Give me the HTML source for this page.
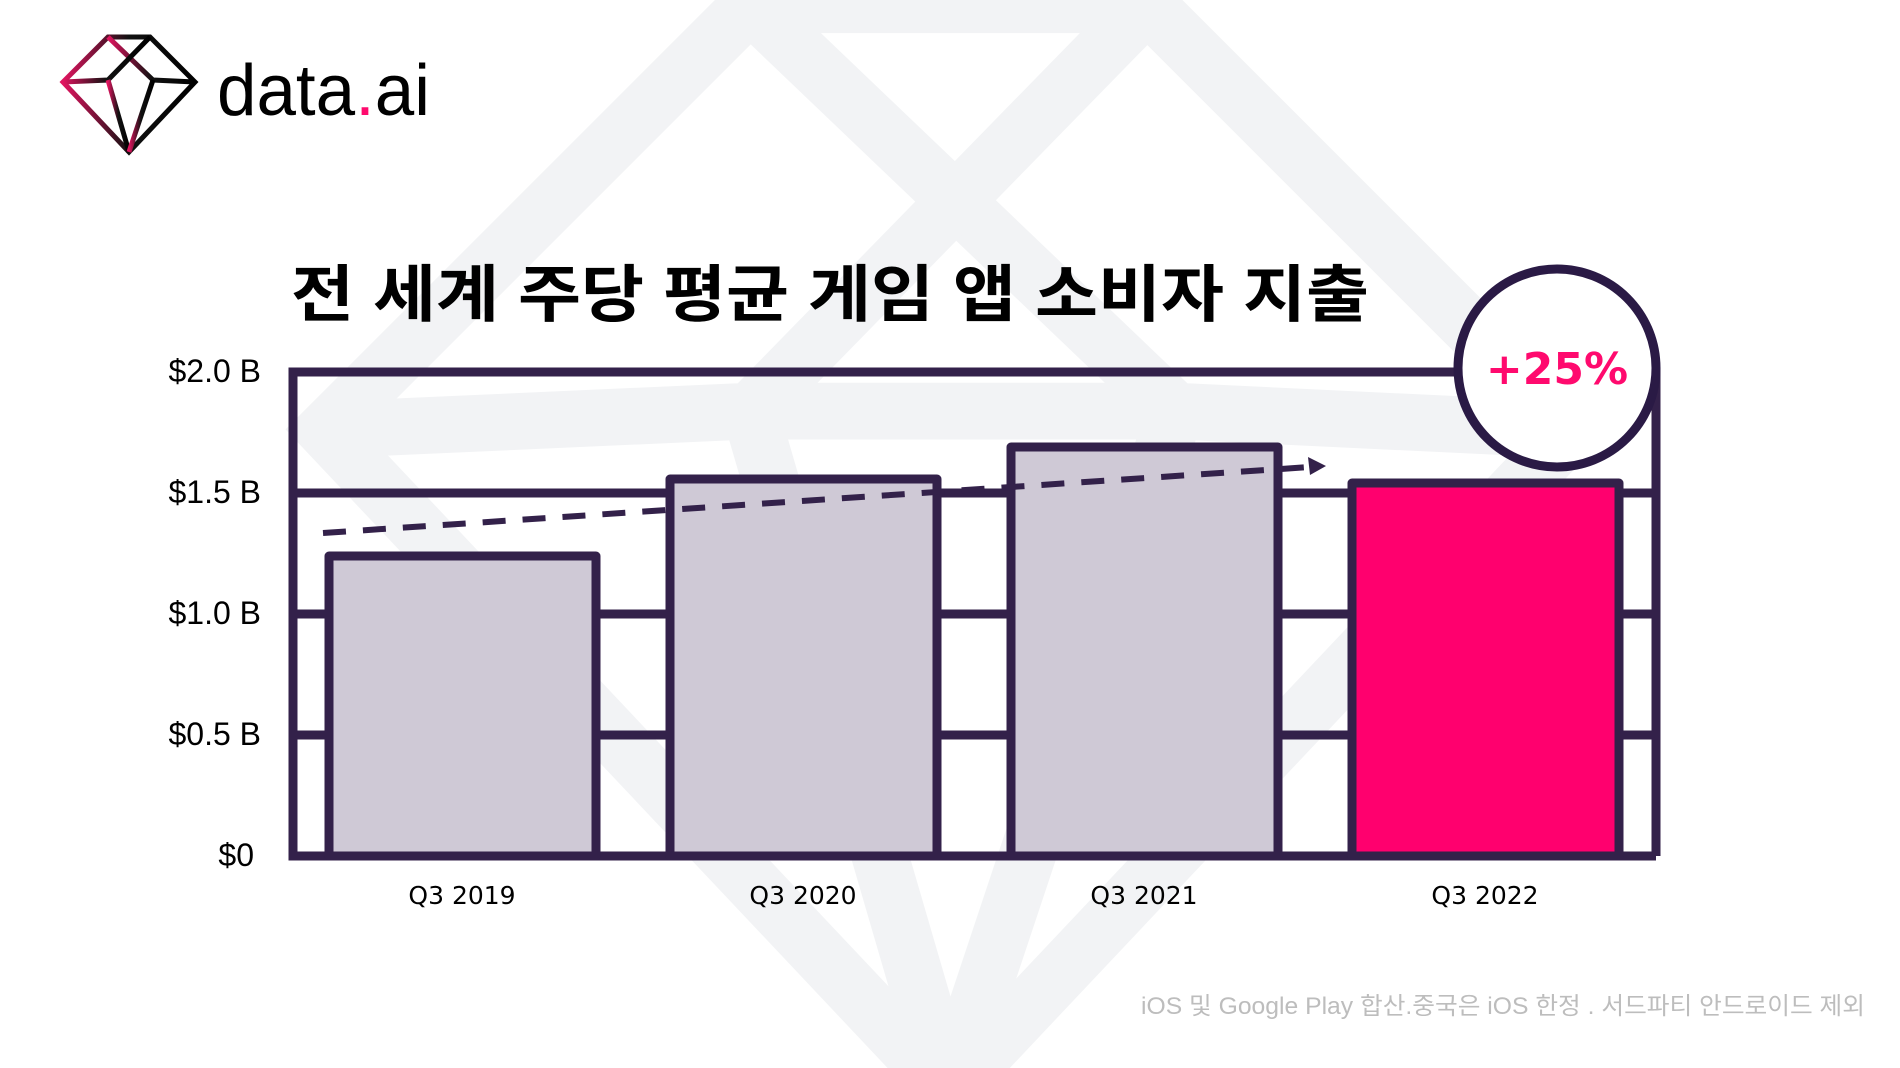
<!DOCTYPE html>
<html><head><meta charset="utf-8"><style>
html,body{margin:0;padding:0;background:#fff;}
svg{display:block;}
</style></head><body>
<svg width="1900" height="1068" viewBox="0 0 1900 1068" xmlns="http://www.w3.org/2000/svg">
<defs>
<linearGradient id="g" x1="0" y1="0" x2="1" y2="0">
<stop offset="0" stop-color="#e0145f"/><stop offset="0.5" stop-color="#111"/><stop offset="1" stop-color="#000"/>
</linearGradient>
</defs>
<!-- watermark -->
<g transform="translate(325,430) scale(9.45) translate(-63,-82)" fill="none" stroke="#f2f3f5" stroke-width="6" stroke-linejoin="miter">
<polygon points="108,37 150,37 195,82 129,152 63,82"/>
<polyline points="108,37 153,80 195,82"/>
<polyline points="150,37 108,80 63,82"/>
<line x1="108" y1="80" x2="153" y2="80"/>
<line x1="108" y1="80" x2="129" y2="152"/>
<line x1="153" y1="80" x2="129" y2="152"/>
</g>
<!-- logo -->
<g fill="none" stroke="url(#g)" stroke-width="5" stroke-linejoin="miter">
<polygon points="108,37 150,37 195,82 129,152 63,82"/>
<polyline points="108,37 153,80 195,82"/>
<polyline points="150,37 108,80 63,82"/>
<line x1="108" y1="80" x2="129" y2="152"/>
<line x1="153" y1="80" x2="129" y2="152"/>
</g>
<text x="217" y="115" font-family="Liberation Sans, sans-serif" font-size="72" fill="#000" textLength="213" lengthAdjust="spacingAndGlyphs">data<tspan fill="#ff0a6e">.</tspan>ai</text>
<!-- title -->
<text x="291" y="316" font-family="Liberation Sans, 'Noto Sans CJK KR', sans-serif" font-weight="bold" font-size="62" fill="#000" textLength="1078" lengthAdjust="spacingAndGlyphs">전 세계 주당 평균 게임 앱 소비자 지출</text>
<!-- grid -->
<g stroke="#33214a" stroke-width="9" fill="none">
<line x1="293" y1="614" x2="1656" y2="614"/>
<line x1="293" y1="735" x2="1656" y2="735"/>
<line x1="293" y1="493" x2="1656" y2="493"/>
<polyline points="1656,856 1656,372 293,372 293,856 1656,856"/>
</g>
<!-- bars -->
<g stroke="#33214a" stroke-width="9" stroke-linejoin="round">
<rect x="329" y="556" width="267" height="300" fill="#cfc9d6"/>
<rect x="670" y="479" width="267" height="377" fill="#cfc9d6"/>
<rect x="1011" y="447" width="267" height="409" fill="#cfc9d6"/>
<rect x="1352" y="483" width="267" height="373" fill="#ff006e"/>
</g>
<!-- dashed trend -->
<line x1="323" y1="533" x2="1310" y2="467" stroke="#33214a" stroke-width="6" stroke-dasharray="23,17"/>
<polygon points="1326,466 1308,457 1310,475" fill="#33214a"/>
<!-- circle -->
<circle cx="1557" cy="368" r="99" fill="#fff" stroke="#2a1a45" stroke-width="9"/>
<text x="1557" y="384" text-anchor="middle" font-family="'DejaVu Sans', sans-serif" font-weight="bold" font-size="44" fill="#ff0a6e">+25%</text>
<!-- y labels -->
<g font-family="Liberation Sans, sans-serif" font-size="32" fill="#000" text-anchor="end">
<text x="261" y="382">$2.0 B</text>
<text x="261" y="503">$1.5 B</text>
<text x="261" y="624">$1.0 B</text>
<text x="261" y="745">$0.5 B</text>
<text x="254" y="866">$0</text>
</g>
<g font-family="'DejaVu Sans', sans-serif" font-size="25" fill="#000" text-anchor="middle">
<text x="462" y="904">Q3 2019</text>
<text x="803" y="904">Q3 2020</text>
<text x="1144" y="904">Q3 2021</text>
<text x="1485" y="904">Q3 2022</text>
</g>
<text x="1141" y="1014" font-family="Liberation Sans, 'Noto Sans CJK KR', sans-serif" font-size="24" fill="#bdbdbd" textLength="724" lengthAdjust="spacingAndGlyphs">iOS 및 Google Play 합산.중국은 iOS 한정 . 서드파티 안드로이드 제외</text>
</svg>
</body></html>
